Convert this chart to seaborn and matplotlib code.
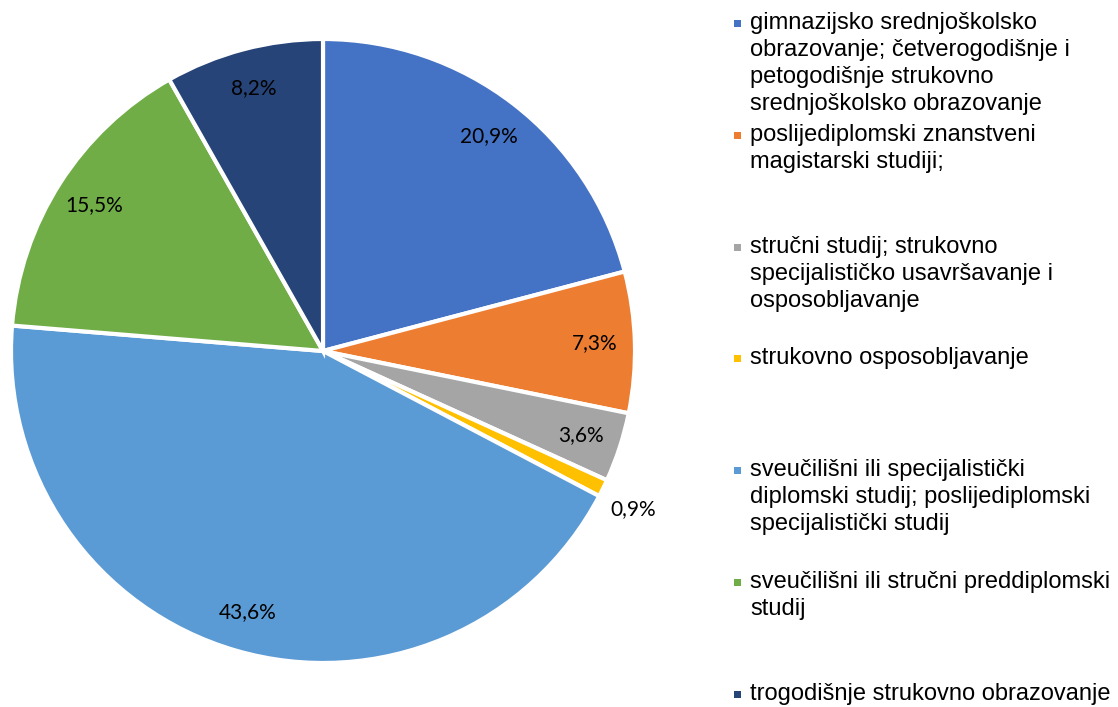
import matplotlib
matplotlib.use('Agg')

import matplotlib.pyplot as plt
import seaborn as sns

# =========================
# DATA
# =========================
categories = [
    "gimnazijsko srednjoškolsko\nobrazovanje; četverogodišnje i\npetogodišnje strukovno\nsrednjoškolsko obrazovanje",
    "poslijediplomski znanstveni\nmagistarski studiji;",
    "stručni studij; strukovno\nspecijalističko usavršavanje i\nosposobljavanje",
    "strukovno osposobljavanje",
    "sveučilišni ili specijalistički\ndiplomski studij; poslijediplomski\nspecijalistički studij",
    "sveučilišni ili stručni preddiplomski\nstudij",
    "trogodišnje strukovno obrazovanje",
]
shares = [20.9, 7.3, 3.6, 0.9, 43.6, 15.5, 8.2]
colors = ["#4472C4", "#ED7D31", "#A5A5A5", "#FFC000", "#5B9BD5", "#70AD47", "#264478"]

# =========================
# STYLE
# =========================
sns.set_theme(style="white")
plt.rcParams['font.family'] = ['Liberation Sans', 'DejaVu Sans']

fig = plt.figure(figsize=(11.18, 7.07), dpi=100)
W, H = 1118, 707

# pie centre (323, 351), radius 312 px
cx, cy, r = 323, 351, 312
ax = fig.add_axes([(cx - r) / W, (H - cy - r) / H, 2 * r / W, 2 * r / H])

wedges, texts, autotexts = ax.pie(
    shares,
    colors=colors,
    startangle=90,
    counterclock=False,
    radius=1.0,
    autopct=lambda p: f"{p:.1f}%".replace(".", ","),
    pctdistance=0.87,
    wedgeprops=dict(edgecolor="white", linewidth=3),
    textprops=dict(fontsize=15, color="#000000", family=['Lato', 'DejaVu Sans']),
)
ax.set_xlim(-1, 1)
ax.set_ylim(-1, 1)
ax.set_aspect('equal')
ax.axis('off')

# small slice label sits outside the pie
small = shares.index(0.9)
x, y = autotexts[small].get_position()
scale = 1.13 / 0.87
autotexts[small].set_position((x * scale - 0.02, y * scale - 0.01))

# =========================
# LEGEND (Excel-style, evenly spaced slots)
# =========================
slot0 = 23
slot_step = 111.8
line_step = 27
for k, (label, col) in enumerate(zip(categories, colors)):
    ypix = slot0 + k * slot_step
    fig.patches.append(plt.Rectangle(
        (734 / W, (H - ypix - 4) / H), 7 / W, 7 / H,
        transform=fig.transFigure, facecolor=col, edgecolor='none'))
    for i, line in enumerate(label.split("\n")):
        fig.text(750 / W, (H - ypix - i * line_step) / H, line,
                 fontsize=17, color="#000000", va='center', ha='left')

plt.savefig("out.png", dpi=100)
plt.close()
